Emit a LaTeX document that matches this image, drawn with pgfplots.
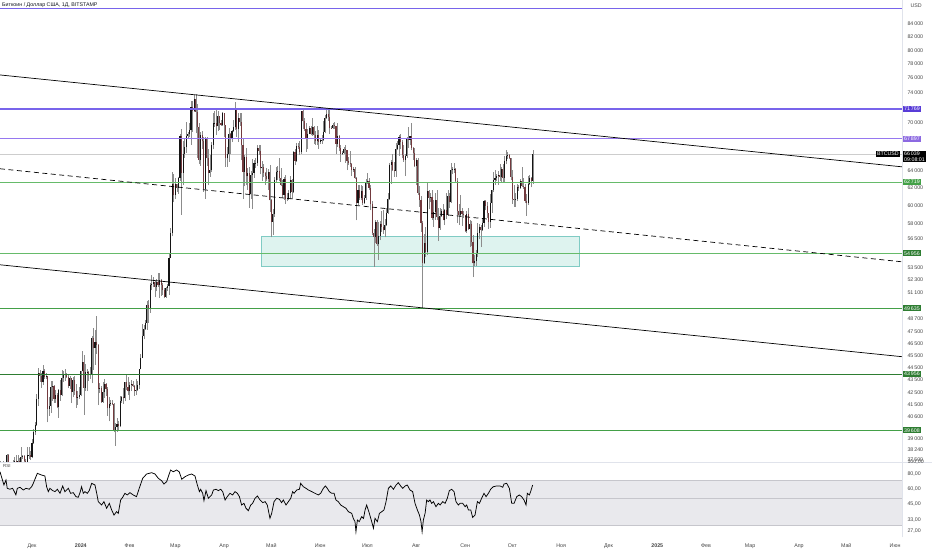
\documentclass[border=0pt]{standalone}
\usepackage{pgfplots}
\usepackage{pgfplotstable}
\pgfplotsset{compat=1.18}
\usepackage{fontspec}
\setmainfont{Liberation Sans}
\definecolor{wick}{RGB}{140,140,140}
\definecolor{upc}{RGB}{20,20,20}
\definecolor{dnc}{RGB}{115,58,62}
\definecolor{purAt}{RGB}{88,60,215}
\definecolor{purB}{RGB}{150,120,240}
\definecolor{purBt}{RGB}{140,105,225}
\definecolor{purC}{RGB}{120,100,235}
\definecolor{grn1}{RGB}{102,187,106}
\definecolor{grn2}{RGB}{67,160,71}
\definecolor{grn3}{RGB}{46,125,50}
\definecolor{tealfill}{RGB}{222,243,239}
\definecolor{tealdraw}{RGB}{128,203,196}
\definecolor{bandfill}{RGB}{233,233,237}
\definecolor{bandline}{RGB}{198,198,204}
\definecolor{axtext}{RGB}{70,70,70}
\definecolor{sepcol}{RGB}{224,227,235}
\definecolor{pricel}{RGB}{205,205,205}
\newcommand{\axfont}{\fontsize{5.3}{6}\selectfont}
\newcommand{\tagfont}{\fontsize{5.3}{5.8}\selectfont}

\pgfplotstableread{
d o h l c
-20 37300 37400 36750 37070
-19 37070 37250 36700 37050
-18 37050 37420 36340 36500
-17 36500 36750 35100 35550
-16 35550 37950 35370 37880
-15 37880 37920 35520 36160
-14 36160 36850 35900 36580
-13 36580 36850 36200 36590
-12 36590 37520 36320 37370
-11 37370 37700 36800 37460
-10 37460 37850 35650 35800
-9 35800 37880 35680 37420
-8 37420 37650 36870 37290
-7 37290 38420 37250 37720
-6 37720 37850 37560 37790
-5 37790 37820 37150 37460
-4 37460 37600 36720 37250
-3 37250 38380 36880 37830
-2 37830 38420 37600 37860
-1 37860 38160 37500 37720
0 37720 38950 37620 38690
1 38690 39700 38650 39470
2 39470 40200 39280 39980
3 39980 42400 39960 41990
4 41990 44450 41420 44080
5 44080 44300 43340 43780
6 43780 44050 42840 43290
7 43290 44700 43080 44170
8 44170 44350 43580 43720
9 43720 44040 43590 43790
10 43790 43800 40200 41240
11 41240 42100 40680 41450
12 41450 43430 40900 42890
13 42890 43400 41820 43020
14 43020 43090 41670 41940
15 41940 42700 41700 42280
16 42280 42430 41260 41370
17 41370 42750 40530 42660
18 42660 43480 41820 42270
19 42270 44290 42200 43650
20 43650 44230 43300 43870
21 43870 44370 43420 43990
22 43990 44040 43600 43740
23 43740 43950 42800 43010
24 43010 43800 42760 43600
25 43600 43650 41650 42520
26 42520 43690 42100 43440
27 43440 43800 42300 42580
28 42580 43120 41300 42070
29 42070 42610 41530 42140
30 42140 42890 41980 42280
31 42280 44200 42180 44180
32 44180 45900 44170 44960
33 44960 45500 40750 42850
34 42850 44760 42630 44150
35 44150 44350 42600 44160
36 44160 44220 43400 43970
37 43970 44500 43580 43930
38 43930 47200 43200 46970
39 46970 47890 44300 46120
40 46120 47650 44700 46650
41 46650 48970 45600 46340
42 46340 46500 41500 42780
43 42780 43240 42440 42850
44 42850 43030 41700 41730
45 41730 43330 41700 42510
46 42510 43560 42050 43150
47 43150 43200 42200 42740
48 42740 42900 40680 41260
49 41260 42150 40280 41620
50 41620 41880 41470 41690
51 41690 41860 41490 41580
52 41580 41680 39460 39570
53 39570 40140 38500 39890
54 39890 40500 39500 40080
55 40080 40280 39560 39940
56 39940 42200 39830 41810
57 41810 42200 41690 42120
58 42120 42800 41620 42030
59 42030 43320 41800 43300
60 43300 43880 42690 42940
61 42940 43740 42300 42570
62 42570 43280 41880 43080
63 43080 43480 42590 43190
64 43190 43380 42880 42990
65 42990 43110 42230 42580
66 42580 43520 42260 42660
67 42660 43400 42580 43090
68 43090 44400 42790 44340
69 44340 45580 44330 45290
70 45290 48200 45250 47150
71 47150 48150 46860 47770
72 47770 48580 47700 48290
73 48290 50330 47720 49960
74 49960 50380 48350 49700
75 49700 52000 49250 51800
76 51800 52820 51320 51950
77 51950 52580 51600 52160
78 52160 52200 50650 51660
79 51660 52400 51250 52120
80 52120 52970 51680 51780
81 51780 53000 50600 52280
82 52280 52370 50800 51850
83 51850 52040 50900 51320
84 51320 51560 50550 50730
85 50730 51680 50600 51570
86 51570 51950 51300 51730
87 51730 54900 50900 54500
88 54500 57580 54450 57080
89 57080 63900 56700 62500
90 62500 63680 60400 61200
91 61200 63150 60800 62440
92 62440 62450 61600 62030
93 62030 63230 61340 63170
94 63170 68530 62800 68330
95 68330 69200 59000 63800
96 63800 67640 62300 66100
97 66100 67980 65600 66920
98 66920 70100 66200 68300
99 68300 68800 68000 68500
100 68500 70000 68200 69000
101 69000 72800 67200 72100
102 72100 72900 68800 71480
103 71480 73650 71400 73100
104 73100 73800 68600 71400
105 71400 72400 65600 69400
106 69400 70000 64800 65300
107 65300 68800 64600 68400
108 68400 68900 66600 67600
109 67600 68100 61600 61900
110 61900 68100 60800 67900
111 67900 68200 64600 65500
112 65500 66600 62300 63800
113 63800 65900 63300 64100
114 64100 67500 63900 67200
115 67200 71200 66600 69900
116 69900 71500 69400 69950
117 69950 71700 68400 69500
118 69500 71500 68900 70800
119 70800 70900 69100 69900
120 69900 70300 69600 69700
121 69700 71400 69600 71300
122 71300 71300 68200 69700
123 69700 69700 64500 65500
124 65500 66900 64500 65980
125 65980 69300 65100 68500
126 68500 68700 66000 67840
127 67840 69000 67500 68900
128 68900 70300 68800 69360
129 69360 72700 69100 71630
130 71630 71700 68200 69150
131 69150 71200 67500 70630
132 70630 71300 69600 70010
133 70010 71200 65300 67100
134 67100 67900 60800 63900
135 63900 65900 62200 65700
136 65700 66800 62300 63400
137 63400 64300 61800 63800
138 63800 64500 59800 61300
139 61300 64000 60800 63500
140 63500 65400 59600 63800
141 63800 65300 63200 64900
142 64900 65600 64300 64950
143 64950 67200 64600 66800
144 66800 67200 65900 66400
145 66400 67100 63600 64300
146 64300 65200 62800 64500
147 64500 64800 63300 63800
148 63800 63900 62400 63400
149 63400 64300 62800 63100
150 63100 64200 61800 63850
151 63850 64700 59300 60600
152 60600 60800 56600 58250
153 58250 59600 56900 59100
154 59100 63300 58800 62900
155 62900 64500 62600 63900
156 63900 64600 62900 64000
157 64000 65500 62800 63160
158 63160 64400 62200 62330
159 62330 62900 60900 61190
160 61190 63300 60700 63050
161 63050 63500 60200 60790
162 60790 61500 60500 60830
163 60830 61800 60700 61460
164 61460 63400 60800 62900
165 62900 63100 60800 61550
166 61550 66400 61400 66250
167 66250 66700 64700 65230
168 65230 67400 65100 67050
169 67050 67400 66600 66940
170 66940 67700 65900 66280
171 66280 71500 66100 71450
172 71450 71900 69200 70150
173 70150 70600 68900 69120
174 69120 70000 66300 67930
175 67930 69200 66700 68550
176 68550 69600 68500 69290
177 69290 69500 68400 68500
178 68500 70600 68300 69400
179 69400 69600 67300 68370
180 68370 68900 67200 67630
181 67630 69500 67200 68360
182 68360 69000 66700 67500
183 67500 67900 67300 67740
184 67740 68400 67300 67760
185 67760 70200 67600 68800
186 68800 71000 68600 70570
187 70570 71750 70400 71080
188 71080 71600 70200 70760
189 70760 71900 68500 69340
190 69340 69600 69200 69300
191 69300 69900 69200 69650
192 69650 70100 69200 69500
193 69500 69600 66100 67320
194 67320 69900 66900 68240
195 68240 68400 66400 66750
196 66750 67200 65100 66010
197 66010 66400 65900 66190
198 66190 66900 66000 66640
199 66640 67200 65000 66490
200 66490 66500 64100 65140
201 65140 65700 64700 64960
202 64960 66400 64500 64830
203 64830 65000 63400 64100
204 64100 64500 63900 64260
205 64260 64500 63100 63160
206 63160 63300 58400 60280
207 60280 62300 60100 61800
208 61800 62400 60700 60860
209 60860 62300 60600 61700
210 61700 62200 60100 60320
211 60320 61200 60200 60890
212 60890 63000 60700 62670
213 62670 63800 62500 62850
214 62850 63200 61800 62030
215 62030 62300 59500 60200
216 60200 60500 56800 57050
217 57050 57500 53600 56660
218 56660 58500 56050 58240
219 58240 58400 55750 55860
220 55860 58200 54300 56700
221 56700 58300 56300 58040
222 58040 59400 57200 57720
223 57720 59500 57000 57340
224 57340 58600 56600 57900
225 57900 59800 57800 59220
226 59220 61400 59100 60800
227 60800 64900 60700 64720
228 64720 65300 62500 65040
229 65040 66100 64000 64100
230 64100 65100 63300 63970
231 63970 67400 63300 66710
232 66710 67600 66500 67160
233 67160 68400 65800 68190
234 68190 68500 66600 67580
235 67580 67800 65500 65930
236 65930 67100 65100 65370
237 65370 66100 63400 65780
238 65780 68200 65600 67910
239 67910 69400 66800 67810
240 67810 68300 67100 68250
241 68250 70000 66500 66780
242 66780 66900 65300 66200
243 66200 66800 64500 64620
244 64620 65600 62300 65350
245 65350 65600 61200 61500
246 61500 62200 59900 60700
247 60700 61100 57200 58120
248 58120 58300 49600 54020
249 54020 57000 53900 56040
250 56040 57700 54600 55130
251 55130 62700 54800 61700
252 61700 61800 59600 60880
253 60880 61400 60400 60940
254 60940 61800 58500 58710
255 58710 60700 57700 59350
256 59350 61500 58500 60600
257 60600 61800 58400 58740
258 58740 59800 56200 57560
259 57560 59800 57400 58870
260 58870 59600 58800 59480
261 59480 60200 58400 58450
262 58450 59600 57900 59490
263 59490 61400 58600 59010
264 59010 61800 58900 61160
265 61160 61400 59800 60380
266 60380 64900 60300 64090
267 64090 64500 63600 64180
268 64180 65000 63800 64250
269 64250 64400 62700 62830
270 62830 63200 58100 59420
271 59420 60200 57900 59030
272 59030 61200 58800 59380
273 59380 59800 57800 59120
274 59120 59400 58700 58970
275 58970 59000 57200 57310
276 57310 59400 57100 59130
277 59130 59800 57400 57480
278 57480 58500 55600 57970
279 57970 58300 55700 56160
280 56160 56900 52600 53950
281 53950 54800 53700 54160
282 54160 55300 53700 54870
283 54870 58100 54600 57040
284 57040 58000 56400 57650
285 57650 57900 55600 57340
286 57340 58600 57300 58130
287 58130 60700 57700 60540
288 60540 60600 59500 60000
289 60000 60400 58700 59190
290 59190 59200 57500 58190
291 58190 61300 57600 60310
292 60310 61800 59200 61760
293 61760 63900 61600 62950
294 62950 64100 62400 63200
295 63200 63600 62800 63350
296 63350 64000 62400 63580
297 63580 64800 62800 63340
298 63340 64500 62700 64270
299 64270 64800 62600 63140
300 63140 65800 62700 65180
301 65180 66500 64800 65790
302 65790 66300 65400 65880
303 65880 66100 65400 65600
304 65600 65600 62900 63330
305 63330 64100 60200 60800
306 60800 62400 59900 60650
307 60650 61500 59900 60750
308 60750 62500 60500 62090
309 62090 62400 61700 62060
310 62060 63000 61900 62820
311 62820 64500 62100 62220
312 62220 63200 61900 62130
313 62130 62500 60300 60580
314 60580 61300 58900 60300
315 60300 63400 60100 62450
316 62450 63500 62400 63200
317 63200 63300 62100 62850
318 62850 66500 62450 66039
}\candles

\pgfplotstableread{
d r
-20.3 83
-17.8 64.5
-16.5 71
-15.7 60.5
-14 59.5
-12.3 60.5
-10.2 53.5
-9.3 60.5
-7.6 61.7
-5.5 58.6
-3.8 60.5
-1.7 59.5
-0.2 62.4
0.85 66.6
3.4 80.6
6.1 78
8.2 76.6
9.3 62.4
10.4 56.8
11.4 60.5
13.1 58
14.6 56.8
16.1 59.5
17.8 55
19.5 63.3
20.9 56.8
23.1 60.5
24.5 55
26.2 55.7
27.9 51.6
29.4 51
30.5 55.7
31.5 62.4
32.6 55
33.6 56.8
35.1 55
36.4 58
37.9 66.6
40 64.5
41.1 55
42.1 46.9
44.2 44
45.7 46.9
47.4 41.3
49.1 45.4
50.6 40
52.1 36.3
53.7 38.7
54.8 37.5
56.3 48.4
57.6 51
59 55
60.5 53.3
62.2 55.7
64.3 53.3
66.4 51.6
68.1 60.5
70.3 73.3
72.8 79.6
76 81.6
78.1 79.6
80.2 73.3
82.3 70
83.8 65.7
85.5 68.7
88 85.9
89.7 83
91.8 85.9
93.5 83
95.1 71.9
97.2 75.6
99.3 78.1
101.4 79.6
103.5 76.6
105 64.5
106.3 56.8
107.1 59.4
108.4 55
109.2 47.8
110.5 57.9
112 50
114.1 53.3
115.2 58.6
116.9 59.4
118.3 57.9
119.8 59.4
121.1 56.8
122.6 48.4
124 51.6
125.7 55
127.4 53.3
128.9 56.8
130.4 55
131.7 51.6
133.1 44
134.6 45.4
135.9 41.3
137.4 39.5
138.9 44
140.1 45.4
141.6 50
143.1 52.3
144.8 48.4
146.5 46
148 46.9
149.4 44
151.1 34.1
152.2 37.5
153.7 46.9
155.4 50
157.1 49
158.5 46
159.6 48.4
161.3 44
162.8 46.9
164.3 50
165.5 56.8
166.4 55
168.1 58.6
169.8 59.4
170.6 66.6
172.3 62.4
174 60.5
175.5 58.6
177.6 56.8
179.7 55
181.8 53.3
183.3 55
185 60.5
186.3 63.3
187.5 60.5
188.8 56.8
190.3 55
191.8 55
193 48.4
194.5 46.9
196 44
197.7 42.6
199.4 41.3
200.9 38.7
203 37.5
204 34.1
205.1 32
205.7 26.4
206.6 33
207.8 32
209.3 35.2
210.5 34
211.5 40
212.5 44
214.2 37.5
215.7 32
216.8 28.2
217.8 34.1
219.3 32
220.6 37.5
222.1 38.7
223.5 40
224.8 46.9
226.3 60.5
227.8 63.3
229.5 59.4
231.2 64.5
232.6 67.4
234.1 63.3
235.4 60.5
236.9 63.3
238.3 64.5
240 58.6
241.7 56.8
243.2 45.4
244.7 40
246 36.3
247 32
247.7 26.4
248.5 33
249.6 37.5
250.6 48.4
251.7 46.9
252.7 48.4
253.8 45.4
254.9 46.9
256.5 42.6
258 45.4
259.1 44
260.8 46.9
262.3 45.4
263.7 50
265 57.9
266.5 59.4
268 56.8
269.2 46.9
270.7 44
271.8 45.4
273.5 45.4
275 42.6
276 44
277.1 40
278.6 40
279.8 34.7
281.3 36.3
282.8 46.9
284.1 45.4
285.5 50
287 55
288.3 51.6
289.8 55
291.2 59.4
292.9 62.4
295 63.3
297.2 63.3
298.9 61.7
299.7 65.7
301.4 66.6
303.1 60.5
304.6 45.4
306.1 45.4
307.8 51.6
309.4 53.3
310.9 51.6
312.4 48.4
313.7 44
314.5 55
315.8 53.3
316.6 56.8
317.9 64.5
}\rsi

\begin{document}
\begin{tikzpicture}
\path[use as bounding box, fill=white] (0,0) rectangle (932pt,550pt);
% ---------------- price pane ----------------
\begin{axis}[
  at={(0,88pt)}, anchor=south west,
  scale only axis, width=902pt, height=462pt,
  xmin=-20.3, xmax=552.4,
  ymode=log, ymin=37363, ymax=87813,
  axis line style={draw=none}, tick style={draw=none},
  xtick=\empty,
  ytick={84000,82000,80000,78000,76000,74000,70000,64000,62000,60000,58000,56500,53500,52300,51100,48700,47500,46500,45500,44500,43500,42500,41500,40600,39000,38240,37500},
  yticklabels={84\,000,82\,000,80\,000,78\,000,76\,000,74\,000,70\,000,64\,000,62\,000,60\,000,58\,000,56\,500,53\,500,52\,300,51\,100,48\,700,47\,500,46\,500,45\,500,44\,500,43\,500,42\,500,41\,500,40\,600,39\,000,38\,240,37\,500},
  yticklabel pos=right,
  yticklabel style={font=\axfont, text=axtext, xshift=2pt},
  clip mode=individual,
]
% teal zone
\addplot[fill=tealfill, draw=tealdraw, line width=0.5pt] coordinates {(145.4,53630) (347.3,53630) (347.3,56700) (145.4,56700)} -- cycle;
% current price line
\addplot[draw=pricel, line width=0.5pt] coordinates {(-20.3,66039) (552.4,66039)};
% candles: wicks
\addplot[draw=none, mark=none, forget plot,
  error bars/.cd, y dir=plus, y explicit, error mark=none,
  error bar style={draw=wick, line width=0.5pt, solid}]
  table[x=d, y=l, y error plus expr={\thisrow{h}-\thisrow{l}}] {\candles};
% bodies up
\addplot[draw=none, mark=none, forget plot,
  error bars/.cd, y dir=plus, y explicit, error mark=none,
  error bar style={draw=upc, line width=1.1pt, solid}]
  table[x=d, y expr={\thisrow{c}>=\thisrow{o} ? \thisrow{o} : 1}, y error plus expr={abs(\thisrow{c}-\thisrow{o})}] {\candles};
% bodies down
\addplot[draw=none, mark=none, forget plot,
  error bars/.cd, y dir=plus, y explicit, error mark=none,
  error bar style={draw=dnc, line width=1.1pt, solid}]
  table[x=d, y expr={\thisrow{c}<\thisrow{o} ? \thisrow{c} : 1}, y error plus expr={abs(\thisrow{c}-\thisrow{o})}] {\candles};
% horizontal levels
\addplot[draw=purC, line width=0.9pt] coordinates {(-20.3,86363) (552.4,86363)};
\addplot[draw=purC, line width=1.1pt] coordinates {(-20.3,71769) (552.4,71769)};
\addplot[draw=purB, line width=1pt] coordinates {(-20.3,67897) (552.4,67897)};
\addplot[draw=grn1, line width=0.6pt] coordinates {(-20.3,62719) (552.4,62719)};
\addplot[draw=grn1, line width=0.6pt] coordinates {(-20.3,54956) (552.4,54956)};
\addplot[draw=grn2, line width=0.7pt] coordinates {(-20.3,49635) (552.4,49635)};
\addplot[draw=grn3, line width=0.9pt] coordinates {(-20.3,43956) (552.4,43956)};
\addplot[draw=grn2, line width=0.7pt] coordinates {(-20.3,39608) (552.4,39608)};
% channel
\addplot[black, line width=0.7pt] coordinates {(-20.3,76445) (552.4,64488)};
\addplot[black, line width=0.7pt, dash pattern=on 5pt off 3.5pt] coordinates {(-20.3,64260) (552.4,54100)};
\addplot[black, line width=0.7pt] coordinates {(-20.3,53800) (552.4,45390)};
% separators
\draw[sepcol, line width=0.6pt] (rel axis cs:0,0) -- (rel axis cs:1.04,0);
\draw[sepcol, line width=0.5pt] (rel axis cs:1,0) -- (rel axis cs:1,1);
% title and unit
\node[anchor=north west, font=\fontsize{5.3}{6}\selectfont, text={rgb,255:red,19;green,23;blue,34}, inner sep=1pt] at (rel axis cs:0,1) [xshift=1pt, yshift=-1.3pt] {Биткоин / Доллар США, 1Д, BITSTAMP};
\node[anchor=west, font=\axfont, text=axtext] at (rel axis cs:1,1) [xshift=5pt, yshift=-6pt] {USD};
% tags
\node[anchor=west, fill=purAt, text=white, font=\tagfont, inner xsep=1.5pt, inner ysep=1.1pt] at (axis cs:552.4,71769) [xshift=0.5pt] {71\,769};
\node[anchor=west, fill=purBt, text=white, font=\tagfont, inner xsep=1.5pt, inner ysep=1.1pt] at (axis cs:552.4,67897) [xshift=0.5pt] {67\,897};
\node[anchor=west, fill=black, text=white, font=\tagfont, inner xsep=1.5pt, inner ysep=1.1pt, align=left] at (axis cs:552.4,66039) [xshift=0.5pt, yshift=-2.6pt] {66\,039\\09:08:01};
\node[anchor=east, fill=black, text=white, font=\tagfont, inner xsep=1.5pt, inner ysep=1.1pt] at (axis cs:552.4,66039) [xshift=-1.5pt] {BTCUSD};
\node[anchor=west, fill=grn2, text=white, font=\tagfont, inner xsep=1.5pt, inner ysep=1.1pt] at (axis cs:552.4,62719) [xshift=0.5pt] {62\,719};
\node[anchor=west, fill=grn3, text=white, font=\tagfont, inner xsep=1.5pt, inner ysep=1.1pt] at (axis cs:552.4,54956) [xshift=0.5pt] {54\,956};
\node[anchor=west, fill=grn3, text=white, font=\tagfont, inner xsep=1.5pt, inner ysep=1.1pt] at (axis cs:552.4,49635) [xshift=0.5pt] {49\,635};
\node[anchor=west, fill=grn3, text=white, font=\tagfont, inner xsep=1.5pt, inner ysep=1.1pt] at (axis cs:552.4,43956) [xshift=0.5pt] {43\,956};
\node[anchor=west, fill=grn3, text=white, font=\tagfont, inner xsep=1.5pt, inner ysep=1.1pt] at (axis cs:552.4,39608) [xshift=0.5pt] {39\,608};
\end{axis}
% ---------------- RSI pane ----------------
\begin{axis}[
  at={(0,13pt)}, anchor=south west,
  scale only axis, width=902pt, height=75pt,
  xmin=-20.3, xmax=552.4,
  ymode=log, ymin=23.85, ymax=100.1,
  axis line style={draw=none}, tick style={draw=none},
  xtick={0,31,62,91,122,152,183,213,244,275,305,336,366,397,428,456,487,517,548},
  xticklabels={Дек,\textbf{2024},Фев,Мар,Апр,Май,Июн,Июл,Авг,Сен,Окт,Ноя,Дек,\textbf{2025},Фев,Мар,Апр,Май,Июн},
  xticklabel style={font=\axfont, text=axtext, yshift=-3.2pt},
  ytick={100,80,60,45,33,27},
  yticklabels={{100,00},{80,00},{60,00},{45,00},{33,00},{27,00}},
  yticklabel pos=right,
  yticklabel style={font=\axfont, text=axtext, xshift=2pt},
  clip mode=individual,
]
\addplot[fill=bandfill, draw=none] coordinates {(-20.3,30) (552.4,30) (552.4,70) (-20.3,70)} -- cycle;
\addplot[draw=bandline, line width=0.9pt] coordinates {(-20.3,70) (552.4,70)};
\addplot[draw=bandline, line width=0.7pt] coordinates {(-20.3,50) (552.4,50)};
\addplot[draw=bandline, line width=0.9pt] coordinates {(-20.3,30) (552.4,30)};
\addplot[black, line width=0.75pt] table[x=d, y=r] {\rsi};
\draw[sepcol, line width=0.5pt] (rel axis cs:1,0) -- (rel axis cs:1,1);
\node[anchor=north west, font=\fontsize{4.4}{5}\selectfont, text=axtext, inner sep=1pt] at (rel axis cs:0,1) [xshift=2pt, yshift=-1.5pt] {RSI};
\end{axis}
\end{tikzpicture}
\end{document}
